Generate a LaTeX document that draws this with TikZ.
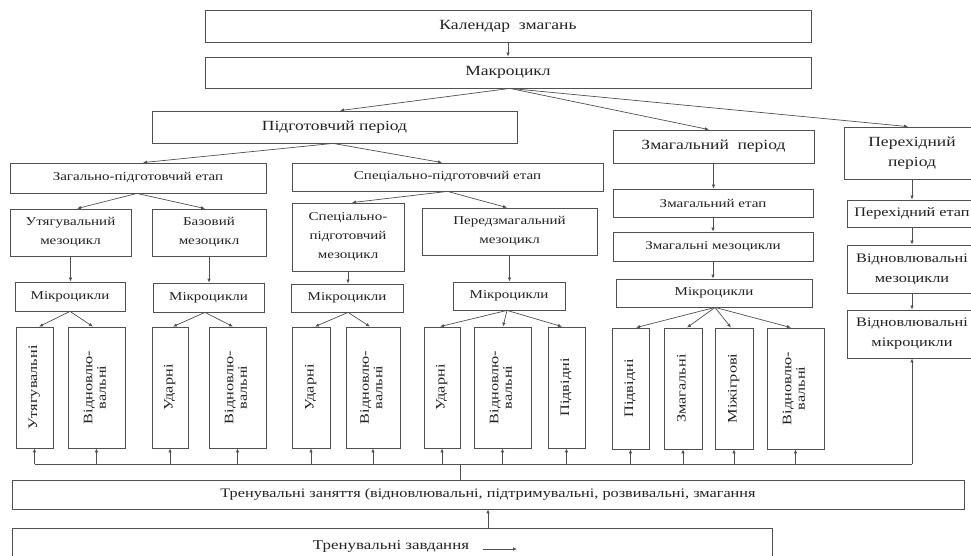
\documentclass[tikz,border=0pt]{standalone}
\usepackage{fontspec}
\setmainfont{Liberation Serif}[FakeStretch=1.25]
\usetikzlibrary{arrows.meta}
\definecolor{linec}{HTML}{505050}
\definecolor{txtc}{HTML}{222222}
\newcommand\vtxt[1]{\rotatebox{90}{\begin{tabular}{@{}c@{}}#1\end{tabular}}}
\begin{document}
\begin{tikzpicture}[x=1pt,y=-1pt,
  box/.style={draw=linec, line width=0.8pt, inner sep=1pt, align=center, text=txtc, font=\fontsize{12}{19}\selectfont},
  big/.style={font=\fontsize{14}{20}\selectfont},
  mid/.style={font=\fontsize{13}{20}\selectfont},
  leaf/.style={box, font=\fontsize{13}{13.5}\selectfont, minimum height=121pt},
  arr/.style={draw=linec, line width=0.7pt, -{Latex[length=4pt,width=3.5pt]}},
  ln/.style={draw=linec, line width=0.7pt}]
\useasboundingbox (0,0) rectangle (971,555);
\clip (0,0) rectangle (971,555);
\fill[white] (0,0) rectangle (971,555);

% top levels
\node[box,big,minimum width=606pt,minimum height=32pt] (cal) at (508,26) {Календар\ \ змагань};
\node[box,big,minimum width=606pt,minimum height=31pt] (mac) at (508,72.5) {Макроцикл};
\node[box,big,minimum width=365pt,minimum height=32pt] (prep) at (334.5,127) {Підготовчий період};
\node[box,big,minimum width=201pt,minimum height=33pt] (comp) at (713.5,146.5) {Змагальний\ \ період};
\node[box,big,minimum width=136pt,minimum height=52pt] (trans) at (912,153) {Перехідний\\період};

% stages and mesocycles
\node[box,minimum width=256pt,minimum height=30pt] (gen) at (138,178) {Загально-підготовчий етап};
\node[box,minimum width=311pt,minimum height=28pt] (spec) at (447.5,177) {Спеціально-підготовчий етап};
\node[box,minimum width=121pt,minimum height=47pt] (utm) at (70.5,232.5) {Утягувальний\\мезоцикл};
\node[box,minimum width=114pt,minimum height=47pt] (bam) at (209,232.5) {Базовий\\мезоцикл};
\node[box,minimum width=112pt,minimum height=68pt] (spm) at (348,237) {Спеціально-\\підготовчий\\мезоцикл};
\node[box,minimum width=175pt,minimum height=47pt] (prm) at (509.5,231.5) {Передзмагальний\\мезоцикл};
\node[box,minimum width=200pt,minimum height=28pt] (cst) at (713,203) {Змагальний етап};
\node[box,minimum width=200pt,minimum height=29pt] (cms) at (713,246.5) {Змагальні мезоцикли};
\node[box,mid,minimum width=130pt,minimum height=27pt] (tst) at (912,213.5) {Перехідний етап};
\node[box,mid,minimum width=130pt,minimum height=48pt] (rms) at (912,269) {Відновлювальні\\мезоцикли};
\node[box,mid,minimum width=130pt,minimum height=48pt] (rmc) at (912,334) {Відновлювальні\\мікроцикли};

% microcycles
\node[box,minimum width=110pt,minimum height=29pt] (mc1) at (70,296.5) {Мікроцикли};
\node[box,minimum width=111pt,minimum height=29pt] (mc2) at (208.5,297.5) {Мікроцикли};
\node[box,minimum width=112pt,minimum height=28pt] (mc3) at (347,298) {Мікроцикли};
\node[box,minimum width=112pt,minimum height=28pt] (mc4) at (509,296) {Мікроцикли};
\node[box,minimum width=196pt,minimum height=28pt] (mc5) at (714,293) {Мікроцикли};

% leaves
\node[leaf,minimum width=37pt] (l1) at (34.5,387.5) {\vtxt{Утягувальні}};
\node[leaf,minimum width=57pt] (l2) at (96.5,387.5) {\vtxt{Відновлю-\\вальні}};
\node[leaf,minimum width=36pt] (l3) at (170,387.5) {\vtxt{Ударні}};
\node[leaf,minimum width=57pt] (l4) at (237.5,387.5) {\vtxt{Відновлю-\\вальні}};
\node[leaf,minimum width=38pt] (l5) at (311,387.5) {\vtxt{Ударні}};
\node[leaf,minimum width=54pt] (l6) at (373,387.5) {\vtxt{Відновлю-\\вальні}};
\node[leaf,minimum width=36pt] (l7) at (442,387.5) {\vtxt{Ударні}};
\node[leaf,minimum width=57pt] (l8) at (502.5,387.5) {\vtxt{Відновлю-\\вальні}};
\node[leaf,minimum width=37pt] (l9) at (566.5,387.5) {\vtxt{Підвідні}};
\node[leaf,minimum width=37pt] (l10) at (630.5,388.5) {\vtxt{Підвідні}};
\node[leaf,minimum width=38pt] (l11) at (683,388.5) {\vtxt{Змагальні}};
\node[leaf,minimum width=38pt] (l12) at (734,388.5) {\vtxt{Міжігрові}};
\node[leaf,minimum width=57pt] (l13) at (795.5,388.5) {\vtxt{Відновлю-\\вальні}};

% bottom
\node[box,font=\fontsize{13}{15}\selectfont,minimum width=952pt,minimum height=29pt] (train) at (488,494.5) {Тренувальні заняття (відновлювальні, підтримувальні, розвивальні, змагання};
\node[box,minimum width=760pt,minimum height=44pt] (task) at (392,550) {};
\node[text=txtc,font=\fontsize{13.5}{15}\selectfont,inner sep=1pt] (tasktxt) at (391,546) {Тренувальні завдання};
\coordinate (ta1) at (483,549);
\coordinate (ta2) at (517,549);
\draw[arr] (ta1) -- (ta2);

% connectors top
\draw[arr] (cal.south) -- (mac.north);
\draw[arr] ([xshift=2pt]mac.south) -- ([xshift=5.5pt]prep.north);
\draw[arr] ([xshift=2pt]mac.south) -- ([xshift=-4.5pt]comp.north);
\draw[arr] ([xshift=2pt]mac.south) -- ([xshift=-4pt]trans.north);
\draw[arr] ([xshift=-1.5pt]prep.south) -- ([xshift=5pt]gen.north);
\draw[arr] ([xshift=-1.5pt]prep.south) -- ([xshift=-5.5pt]spec.north);
\draw[arr] ([xshift=-1pt]gen.south) -- ([xshift=6.5pt]utm.north);
\draw[arr] ([xshift=-1pt]gen.south) -- ([xshift=-4pt]bam.north);
\draw[arr] (spec.south) -- ([xshift=4pt]spm.north);
\draw[arr] (spec.south) -- ([xshift=-2.5pt]prm.north);
\draw[arr] (utm.south) -- (utm.south |- mc1.north);
\draw[arr] (bam.south) -- (bam.south |- mc2.north);
\draw[arr] (spm.south) -- (spm.south |- mc3.north);
\draw[arr] (prm.south) -- (prm.south |- mc4.north);
\draw[arr] (comp.south) -- (comp.south |- cst.north);
\draw[arr] (cst.south) -- (cst.south |- cms.north);
\draw[arr] (cms.south) -- (cms.south |- mc5.north);
\draw[arr] (trans.south) -- (tst.north);
\draw[arr] (tst.south) -- (rms.north);
\draw[arr] (rms.south) -- (rmc.north);

% microcycles to leaves
\draw[arr] (mc1.south) -- ([xshift=4.5pt]l1.north);
\draw[arr] (mc1.south) -- ([xshift=-3.5pt]l2.north);
\draw[arr] ([xshift=-3.5pt]mc2.south) -- ([xshift=3pt]l3.north);
\draw[arr] ([xshift=-3.5pt]mc2.south) -- ([xshift=-4.5pt]l4.north);
\draw[arr] ([xshift=1pt]mc3.south) -- ([xshift=4pt]l5.north);
\draw[arr] ([xshift=1pt]mc3.south) -- ([xshift=-3pt]l6.north);
\draw[arr] ([xshift=-2pt]mc4.south) -- ([xshift=-2pt]l7.north);
\draw[arr] ([xshift=-2pt]mc4.south) -- ([xshift=0.5pt]l8.north);
\draw[arr] ([xshift=-2pt]mc4.south) -- ([xshift=-4.5pt]l9.north);
\draw[arr] ([xshift=1pt]mc5.south) -- ([xshift=5.5pt]l10.north);
\draw[arr] ([xshift=1pt]mc5.south) -- ([xshift=4pt]l11.north);
\draw[arr] ([xshift=1pt]mc5.south) -- ([xshift=-3pt]l12.north);
\draw[arr] ([xshift=1pt]mc5.south) -- ([xshift=-4.5pt]l13.north);

% bus
\coordinate (busL) at (35,464);
\draw[ln] (busL) -- (busL -| rmc.south);
\draw[arr] (busL -| rmc.south) -- (rmc.south);
\foreach \l in {l1,l2,l3,l4,l5,l6,l7,l8,l9,l10,l11,l12,l13}
  \draw[arr] (\l.south |- busL) -- (\l.south);
\coordinate (drop) at (460,464);
\draw[ln] (drop) -- (drop |- train.north);
\draw[arr] (task.north -| train.south) -- (train.south);
\end{tikzpicture}
\end{document}
